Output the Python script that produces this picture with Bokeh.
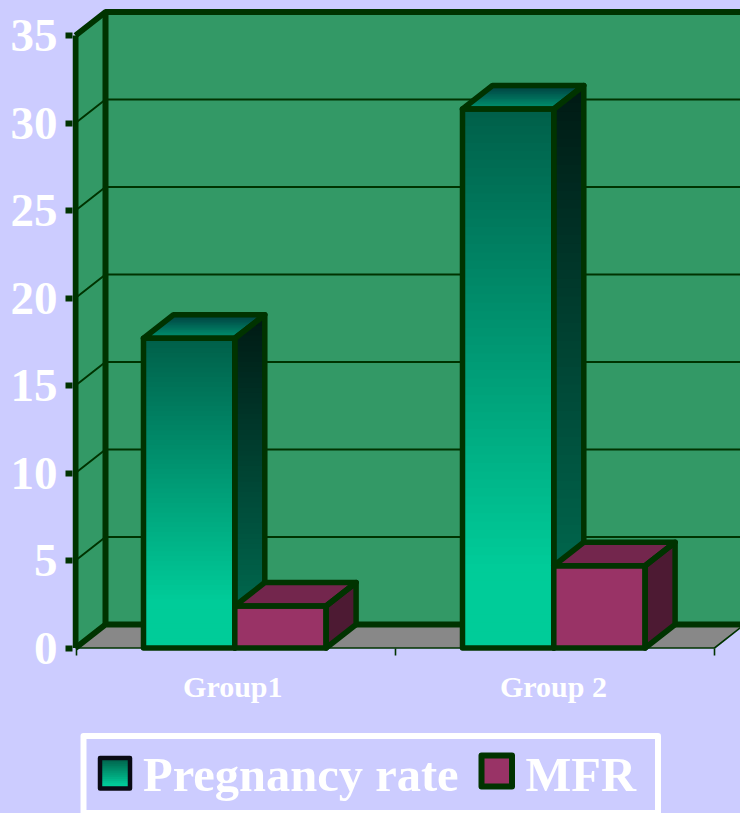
from bokeh.plotting import figure
from bokeh.layouts import column
from bokeh.models import FixedTicker, LinearAxis
from bokeh.embed import file_html
from bokeh.resources import INLINE
from bokeh.core.properties import value

# ---- data ----
categories = ["Group1", "Group 2"]
series_names = ["Pregnancy rate", "MFR"]
pregnancy_rate = [17.7, 30.8]
mfr = [2.4, 4.7]
y_ticks = [0, 5, 10, 15, 20, 25, 30, 35]

# ---- styling ----
BG = "#ccccff"
DARK = "#003300"
WALL = "#339966"
FLOOR = "#888888"
SERIF = "Liberation Serif"
DX, DY = 30 / 319, 23.5 / 17.5      # 3-D depth in data units
GAP = 67 / 319
BAR_W = 91.3 / 319
X0 = -1 / 319
XEND = 2.0

PX, PY = 319, 17.5
x_start, x_end = (72 - 76) / PX, (740 - 76) / PX
y_start, y_end = (647.5 - 651) / PY, (647.5 - 8) / PY


def hex2rgb(c):
    return [int(c[i:i + 2], 16) for i in (1, 3, 5)]


def clip_below(xs, ys, level):
    """Part of a polygon whose y is <= level."""
    out_x, out_y = [], []
    n = len(xs)
    for i in range(n):
        x1, y1, x2, y2 = xs[i], ys[i], xs[(i + 1) % n], ys[(i + 1) % n]
        if y1 <= level:
            out_x.append(x1)
            out_y.append(y1)
        if (y1 <= level) != (y2 <= level):
            t = (level - y1) / (y2 - y1)
            out_x.append(x1 + t * (x2 - x1))
            out_y.append(level)
    return out_x, out_y


def gradient(fig, xs, ys, top, bottom, stop=1.0, n=48):
    """Paint a polygon with a vertical gradient by overlaying clipped copies, top colour first."""
    hi, lo = max(ys), min(ys)
    if fig.y_range.start > fig.y_range.end:   # flipped pixel axis
        hi, lo = lo, hi
    c1, c2 = hex2rgb(top), hex2rgb(bottom)
    px, py, colors = [], [], []
    for k in range(n):
        f = k / n
        t = min(f / stop, 1.0)
        col = "#%02x%02x%02x" % tuple(round(a + t * (b - a)) for a, b in zip(c1, c2))
        level = hi + f * (lo - hi)
        if hi > lo:
            cx, cy = clip_below(xs, ys, level)
        else:
            cx, cy = clip_below(xs, [-v for v in ys], -level)
            cy = [-v for v in cy]
        px.append(cx)
        py.append(cy)
        colors.append(col)
    fig.patches(px, py, fill_color=colors, line_color=None)


def outline(fig, xs, ys, color=DARK, width=5.5):
    fig.patch(xs, ys, fill_color=None, fill_alpha=0, line_color=color, line_width=width, line_join="round")


def bar3d(fig, left, v, kind):
    right = left + BAR_W
    front = ([left, right, right, left], [0, 0, v, v])
    side = ([right, right + DX, right + DX, right], [0, DY, v + DY, v])
    top = ([left, right, right + DX, left + DX], [v, v, v + DY, v + DY])
    if kind == 0:
        gradient(fig, *side, "#001a14", "#00664d", 0.85, 64)
        gradient(fig, *top, "#004040", "#009973", 1.0, 14)
        gradient(fig, *front, "#00604a", "#00cc99", 0.84, 64)
    else:
        fig.patch(*side, fill_color="#4d1a33", line_color=None)
        fig.patch(*top, fill_color="#73264d", line_color=None)
        fig.patch(*front, fill_color="#993366", line_color=None)
    for poly in (side, top, front):
        outline(fig, *poly)


# ---- main chart ----
p = figure(width=734, height=720, output_backend="svg", toolbar_location=None,
           x_range=(x_start, x_end), y_range=(y_start, y_end),
           x_axis_location=None, y_axis_location=None,
           min_border_left=66, min_border_right=0, min_border_top=0, min_border_bottom=77,
           background_fill_color=BG, border_fill_color=BG, outline_line_color=None)
p.grid.visible = False

# walls and floor
wall_right = x_end + DX
p.patch([X0 + DX, wall_right, wall_right, X0 + DX], [DY, DY, y_ticks[-1] + DY, y_ticks[-1] + DY],
        fill_color=WALL, line_color=None)
p.patch([X0, X0 + DX, X0 + DX, X0], [0, DY, y_ticks[-1] + DY, y_ticks[-1]], fill_color=WALL, line_color=None)
p.patch([X0, XEND, XEND + DX, X0 + DX], [0, 0, DY, DY], fill_color=FLOOR, line_color=None)

for t in y_ticks[1:-1]:
    p.line([X0, X0 + DX, wall_right], [t, t + DY, t + DY], line_color=DARK, line_width=2)

p.line([X0, XEND, XEND + DX], [0, 0, DY], line_color=DARK, line_width=1.6)
p.line([X0, X0 + DX, wall_right], [0, DY, DY], line_color=DARK, line_width=6)
p.line([X0, X0 + DX, wall_right], [y_ticks[-1], y_ticks[-1] + DY, y_ticks[-1] + DY], line_color=DARK, line_width=6)
p.line([X0, X0], [0, y_ticks[-1]], line_color=DARK, line_width=6)
p.line([X0 + DX, X0 + DX], [DY, y_ticks[-1] + DY], line_color=DARK, line_width=6)

# bars
for i in range(len(categories)):
    bar3d(p, i + GAP, pregnancy_rate[i], 0)
    bar3d(p, i + GAP + BAR_W, mfr[i], 1)

# axes
yax = LinearAxis(ticker=FixedTicker(ticks=y_ticks), axis_line_color=None,
                 major_tick_line_color=DARK, major_tick_line_width=6,
                 major_tick_in=0, major_tick_out=7, minor_tick_line_color=None,
                 major_label_standoff=8, major_label_text_color="white",
                 major_label_text_font=SERIF, major_label_text_font_style="bold",
                 major_label_text_font_size="47px")
p.add_layout(yax, "left")

label_pos = [0.49, 1.495]
xax = LinearAxis(ticker=FixedTicker(ticks=label_pos, minor_ticks=[0, 1, 2]), axis_line_color=None,
                 major_tick_line_color=None, major_tick_in=0, major_tick_out=0,
                 minor_tick_line_color=DARK, minor_tick_line_width=1.6,
                 minor_tick_in=3, minor_tick_out=4,
                 major_label_overrides=dict(zip(label_pos, categories)),
                 major_label_standoff=14, major_label_text_color="white",
                 major_label_text_font=SERIF, major_label_text_font_style="bold",
                 major_label_text_font_size="30px")
p.add_layout(xax, "below")

# ---- legend (a second strip in page pixels, frame aligned with the chart's frame) ----
lg = figure(width=734, height=85, output_backend="svg", toolbar_location=None,
            x_range=(72, 740), y_range=(813, 728), x_axis_location=None, y_axis_location=None,
            min_border_left=66, min_border_right=0, min_border_top=0, min_border_bottom=0,
            background_fill_color=BG, border_fill_color=BG, outline_line_color=None)
lg.grid.visible = False
outline(lg, [83, 657.5, 657.5, 83], [735.5, 735.5, 812.5, 812.5], "white", 6)

sw1 = ([99.5, 129.5, 129.5, 99.5], [757.5, 757.5, 788, 788])
gradient(lg, *sw1, "#00604a", "#00cc99", 0.85, 16)
outline(lg, *sw1, "#0a0a14", 4.5)
sw2 = ([481, 511.5, 511.5, 481], [755, 755, 786, 786])
lg.patch(*sw2, fill_color="#993366", line_color=None)
outline(lg, *sw2, DARK, 6)

lg.text([142.5, 525], [774, 774], text=series_names, text_color="white", text_font=value(SERIF),
        text_font_style="bold", text_font_size="48.5px", text_baseline="middle", text_align="left")

html = file_html(column(p, lg, spacing=0), INLINE)
html = html.replace("</head>", "<style>html,body{background:%s;overflow:hidden}body{margin:8px 0 0 6px !important}</style></head>" % BG, 1)
open("out.html", "w").write(html)
